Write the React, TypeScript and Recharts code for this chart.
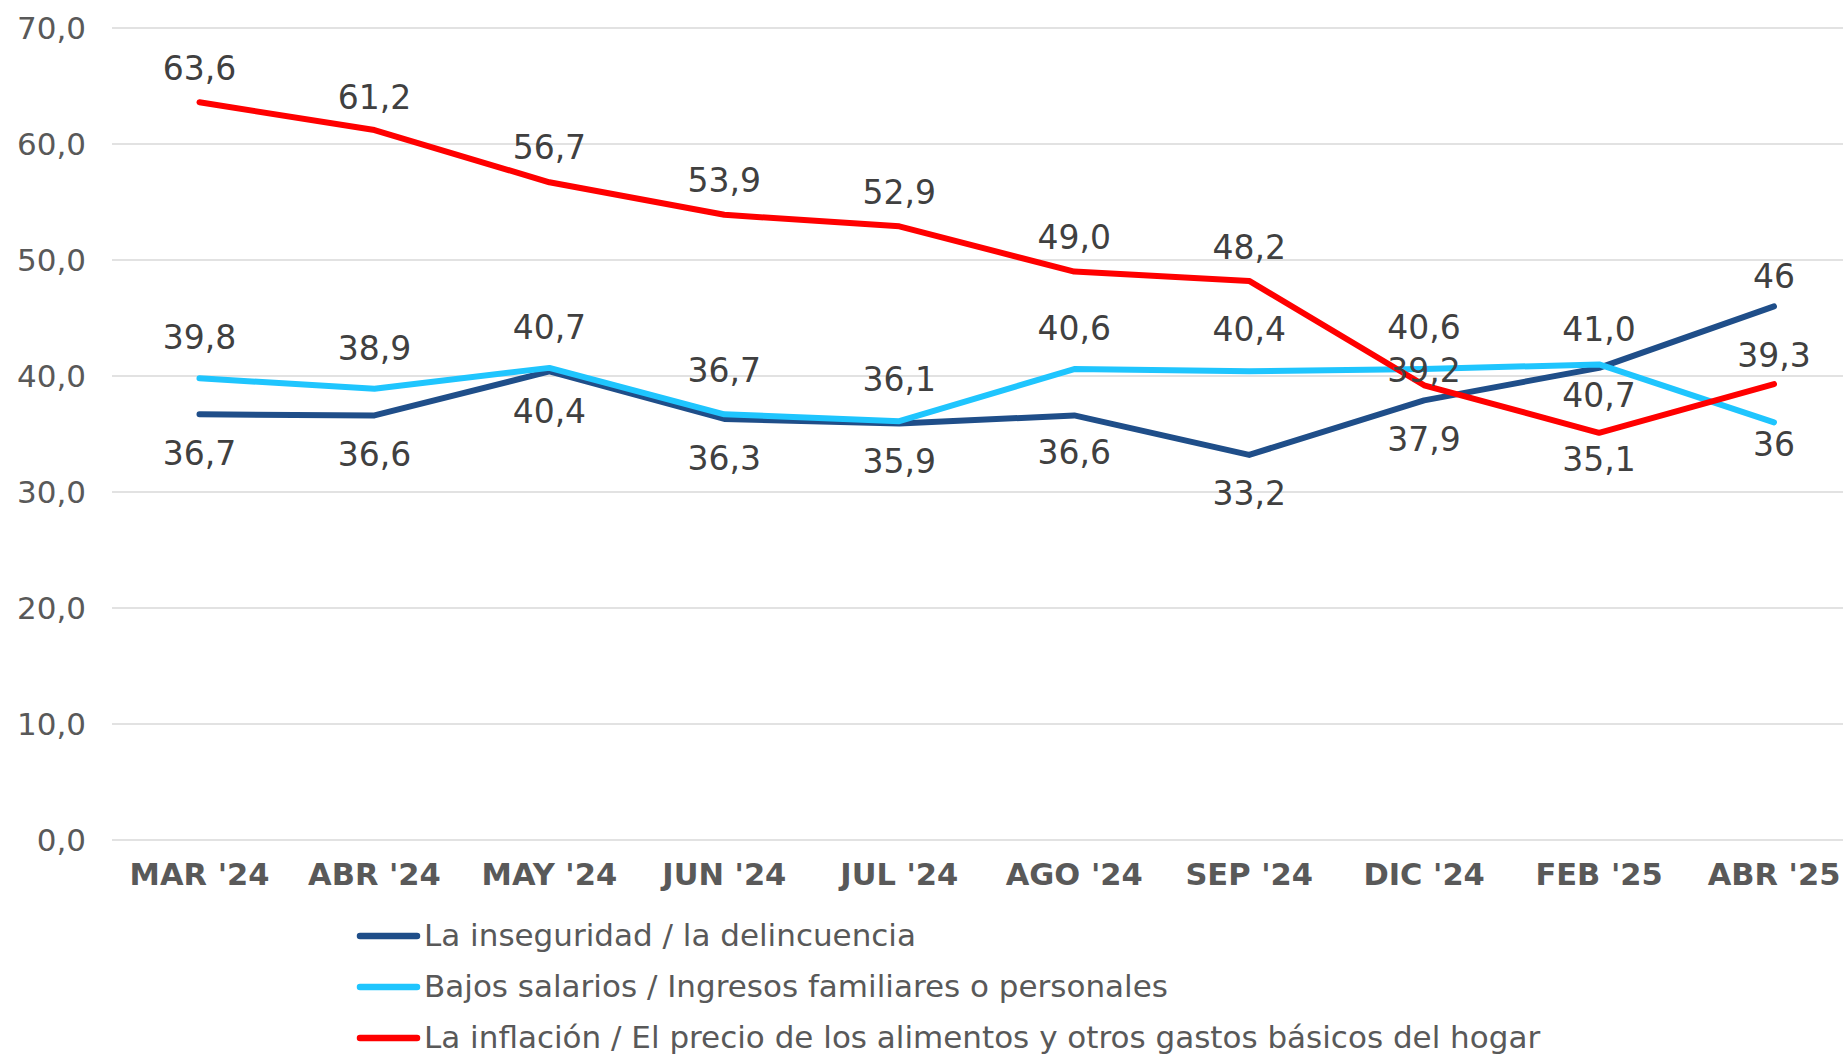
import React from "react";
import { LineChart, Line, XAxis, YAxis, CartesianGrid, Legend, LabelList } from "recharts";

// ---- data ----
const months = ["MAR '24", "ABR '24", "MAY '24", "JUN '24", "JUL '24", "AGO '24", "SEP '24", "DIC '24", "FEB '25", "ABR '25"];
const inseguridad = [36.7, 36.6, 40.4, 36.3, 35.9, 36.6, 33.2, 37.9, 40.7, 46];
const salarios = [39.8, 38.9, 40.7, 36.7, 36.1, 40.6, 40.4, 40.6, 41.0, 36];
const inflacion = [63.6, 61.2, 56.7, 53.9, 52.9, 49.0, 48.2, 39.2, 35.1, 39.3];
const yTicks = [0, 10, 20, 30, 40, 50, 60, 70];
const seriesNames = {
  inseguridad: "La inseguridad / la delincuencia",
  salarios: "Bajos salarios / Ingresos familiares o personales",
  inflacion: "La inflación / El precio de los alimentos y otros gastos básicos del hogar",
};

// ---- styling / label placement (baseline offset from the point, px) ----
const series = [
  { key: "inseguridad", color: "#1F4E89", plainLast: true, labelDy: [51, 51, 52, 51, 49, 49, 50, 51, 39, -18] },
  { key: "salarios", color: "#1FC5FE", plainLast: true, labelDy: [-29, -29, -29, -32, -30, -29, -30, -30, -23, 34] },
  { key: "inflacion", color: "#FF0000", plainLast: false, labelDy: [-22, -21, -23, -23, -22, -23, -22, -3, 38, -17] },
];

const FONT = "'DejaVu Sans', sans-serif";

const fmt = (v: number) => v.toFixed(1).replace(".", ",");

const data = months.map((m, i) => ({
  month: m,
  inseguridad: inseguridad[i],
  salarios: salarios[i],
  inflacion: inflacion[i],
}));

function makeLabel(s: any) {
  return (props: any) => {
    const { x, y, value, index } = props;
    if (x == null || y == null || value == null) return null;
    const last = index === months.length - 1;
    const txt = s.plainLast && last ? String(value) : fmt(Number(value));
    return (
      <text
        x={x}
        y={Number(y) + s.labelDy[index]}
        textAnchor="middle"
        fontSize={33}
        fontFamily={FONT}
        fill="#404040"
      >
        {txt}
      </text>
    );
  };
}

function LegendContent() {
  return (
    <div style={{ fontFamily: FONT, fontSize: 31, color: "#595959" }}>
      {series.map((s) => (
        <div key={s.key} style={{ display: "flex", alignItems: "center", height: 51, lineHeight: "51px", whiteSpace: "nowrap" }}>
          <svg width={74} height={12} style={{ display: "block", flex: "0 0 auto" }}>
            <line x1={10} y1={6} x2={67} y2={6} stroke={s.color} strokeWidth={6.5} strokeLinecap="round" />
          </svg>
          <span>{(seriesNames as any)[s.key]}</span>
        </div>
      ))}
    </div>
  );
}

export default function App() {
  return (
    <div style={{ position: "absolute", left: 0, top: 0, width: 1843, height: 1054, background: "#ffffff", overflow: "hidden" }}>
      <LineChart width={1843} height={1054} data={data} margin={{ top: 28, right: 0, left: 0, bottom: 154 }}>
        <CartesianGrid vertical={false} stroke="#D9D9D9" strokeWidth={1.5} />
        <XAxis
          dataKey="month"
          interval={0}
          axisLine={false}
          tickLine={false}
          tickSize={0}
          tickMargin={23}
          height={60}
          padding={{ left: 87.5, right: 69 }}
          tick={{ fontSize: 30.5, fontWeight: 700, fill: "#595959", fontFamily: FONT }}
        />
        <YAxis
          domain={[0, 70]}
          ticks={yTicks}
          interval={0}
          width={112}
          axisLine={false}
          tickLine={false}
          tickSize={0}
          tickMargin={26}
          tickFormatter={(v: number) => fmt(v)}
          tick={{ fontSize: 31, fill: "#595959", fontFamily: FONT }}
        />
        {series.map((s) => (
          <Line
            key={s.key}
            type="linear"
            dataKey={s.key}
            name={(seriesNames as any)[s.key]}
            stroke={s.color}
            strokeWidth={6}
            strokeLinecap="round"
            strokeLinejoin="round"
            dot={false}
            activeDot={false}
            isAnimationActive={false}
          />
        ))}
        {series.map((s) => (
          <Line
            key={s.key + "-labels"}
            type="linear"
            dataKey={s.key}
            stroke="none"
            dot={false}
            activeDot={false}
            legendType="none"
            isAnimationActive={false}
          >
            <LabelList dataKey={s.key} content={makeLabel(s)} />
          </Line>
        ))}
        <Legend
          layout="vertical"
          align="center"
          verticalAlign="middle"
          wrapperStyle={{ left: 350, top: 910, width: 1400, height: 153 }}
          content={() => <LegendContent />}
        />
      </LineChart>
    </div>
  );
}
